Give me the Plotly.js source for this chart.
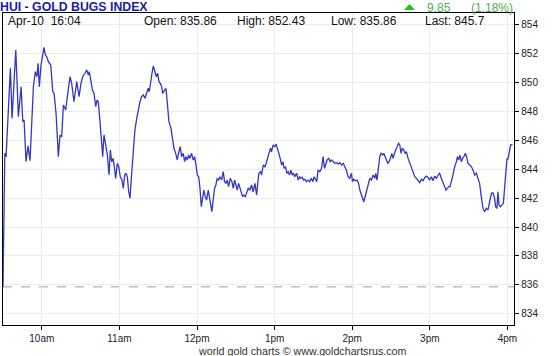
<!DOCTYPE html>
<html>
<head>
<meta charset="utf-8">
<script src="https://cdn.plot.ly/plotly-3.0.1.min.js"></script>
<style>
  html, body { margin: 0; padding: 0; background: #fff; }
  #chart { width: 560px; height: 356px; }
</style>
</head>
<body>
<div id="chart"></div>
<script>
// Trade date and session open
const tradeDate = "2024-04-10";
const openTime = "09:30";

// Minutes after the 9:30 open
const minutes = [
  0,1.4,2.4,5.7,7.0,9.9,11.9,14.0,15.3,16.3,
  17.8,19.4,20.9,23.5,25.0,26.3,27.1,28.1,29.4,30.7,
  31.7,32.8,33.8,35.1,36.9,38.5,39.5,41.0,42.8,44.1,
  45.4,46.7,48.5,50.1,51.8,53.1,54.9,57.0,58.8,60.3,
  61.6,63.4,64.7,66.0,66.7,68.1,69.1,70.4,71.7,72.7,
  73.7,75.0,76.3,77.1,78.1,79.4,80.7,82.0,83.0,84.0,
  85.1,86.1,87.1,88.4,89.5,90.7,92.0,93.0,94.1,95.1,
  96.1,97.2,98.2,99.5,100.7,102.0,103.4,104.6,105.9,107.2,
  108.5,109.8,111.1,112.3,113.1,114.2,115.2,116.2,117.5,118.5,
  119.6,120.6,121.6,122.7,123.4,124.7,126.0,127.3,128.3,129.9,
  131.2,132.2,133.5,134.7,136.0,137.0,138.1,139.4,140.4,141.4,
  142.4,143.5,144.5,145.8,147.1,148.2,149.2,150.2,151.3,152.3,
  153.3,154.3,155.3,156.4,157.4,158.7,159.8,160.8,161.5,162.5,
  163.6,164.6,165.6,166.7,167.7,169.0,170.3,171.3,172.3,173.4,
  174.4,175.7,177.0,178.0,179.1,180.1,181.1,182.2,183.2,184.2,
  185.2,186.2,187.3,188.3,189.6,190.9,192.2,193.4,194.8,196.1,
  196.8,197.8,199.2,199.9,201.2,202.5,203.5,204.6,205.6,206.9,
  207.6,208.9,210.2,211.2,212.3,213.3,214.3,215.4,216.4,217.4,
  218.5,219.5,220.5,221.5,222.6,223.6,224.6,225.6,227.0,228.2,
  229.3,230.3,231.3,232.4,233.4,234.7,235.9,237.2,238.5,239.6,
  240.6,241.6,242.6,243.6,245.0,246.3,247.5,248.6,249.6,250.6,
  251.9,252.9,254.0,255.2,256.5,257.9,259.1,260.4,261.7,263.0,
  264.2,265.5,266.8,268.1,269.4,270.2,271.2,272.5,273.8,274.9,
  275.9,276.9,277.9,278.9,279.7,281.0,282.3,283.6,284.9,286.2,
  287.5,288.2,289.2,290.3,291.3,292.3,293.4,294.4,295.4,296.5,
  297.5,298.5,299.6,300.6,301.6,302.7,303.7,304.7,305.8,306.8,
  307.8,308.8,309.9,310.9,311.9,313.2,314.5,315.8,317.0,318.4,
  319.7,320.9,322.2,323.5,324.8,326.1,327.4,328.6,329.9,331.2,
  332.5,333.8,335.1,336.4,337.6,338.9,340.2,341.5,342.5,343.6,
  344.6,345.6,346.7,347.9,349.2,350.6,351.3,352.3,353.3,354.4,
  355.4,356.4,357.5,358.5,359.5,360.8,362.2,363.4,364.7,366.0,
  367.2,368.5,369.8,371.1,372.4,373.7,375.0,376.3,377.6,378.8,
  380.1,380.9,381.9,382.7,383.5,384.6,385.8,386.9,387.9,388.9,
  389.7,390.4,391.5,392.5,394.0
];

// HUI index level
const prices = [
  835.86,845.10,844.87,850.98,847.52,852.25,847.63,849.71,847.29,847.40,
  844.52,845.61,844.59,849.71,850.75,850.40,851.33,849.71,851.21,852.02,
  852.43,851.90,851.79,851.44,851.21,849.36,849.25,847.87,844.87,846.37,
  846.25,848.44,848.10,849.25,850.40,849.94,848.67,850.06,849.02,849.94,
  850.40,850.64,850.87,850.52,850.75,850.06,849.48,849.25,848.33,848.79,
  848.67,847.29,846.02,844.87,846.37,845.79,844.98,843.60,845.33,844.52,
  844.75,844.17,843.37,844.41,844.17,843.48,843.25,842.68,843.60,843.72,
  843.48,842.44,841.99,843.72,845.33,846.71,847.52,848.21,848.67,849.02,
  849.14,848.91,849.25,849.60,849.36,850.17,850.64,851.14,850.75,850.40,
  850.64,850.06,849.94,849.71,849.25,849.48,849.60,848.33,847.29,846.83,
  846.02,845.45,845.10,844.64,845.21,845.56,844.87,845.10,844.52,844.87,
  844.64,844.98,844.75,845.10,844.64,844.87,844.29,843.60,843.48,842.68,
  841.41,841.87,842.56,842.10,841.87,842.56,841.87,841.41,841.06,841.87,
  842.68,842.91,843.37,843.25,843.48,843.25,843.83,843.14,843.02,843.25,
  842.79,843.37,843.14,842.68,843.25,842.91,842.56,843.02,842.68,842.33,
  842.10,842.22,842.10,842.33,842.68,842.56,842.91,842.44,843.02,842.22,
  842.91,843.72,843.83,843.60,844.29,844.17,844.41,844.87,845.10,845.45,
  845.21,845.68,845.56,845.74,845.45,845.10,844.75,844.29,844.52,844.06,
  844.17,843.72,843.83,843.60,843.94,843.60,843.72,843.48,843.72,843.25,
  843.48,843.37,843.44,843.25,843.30,843.14,843.25,843.14,843.37,843.14,
  843.48,843.25,843.14,843.94,843.83,844.06,844.87,844.06,844.41,844.64,
  844.75,844.52,844.64,844.52,844.41,844.45,844.36,844.45,844.29,844.41,
  844.17,843.94,843.48,843.37,843.72,843.14,843.30,843.20,843.25,843.02,
  842.56,842.33,841.99,841.75,841.99,842.44,842.91,843.37,843.25,843.60,
  843.37,843.72,843.25,844.17,844.87,845.10,844.98,845.10,844.87,844.52,
  844.41,844.52,844.75,845.10,844.75,845.10,845.33,845.45,845.79,845.68,
  845.10,845.45,845.33,845.10,845.21,844.75,844.41,844.17,843.83,843.48,
  843.37,843.25,843.07,843.30,843.20,843.43,843.52,843.43,843.25,843.48,
  843.20,843.53,843.37,843.60,843.72,843.37,843.02,842.79,842.56,842.68,
  842.79,842.79,843.14,843.60,844.17,844.52,844.87,844.64,844.98,844.52,
  844.75,844.87,845.10,844.87,844.41,844.29,844.17,843.94,843.60,843.72,
  843.37,843.02,842.10,841.29,841.06,841.29,841.18,841.87,842.33,842.37,
  841.99,841.41,841.29,842.44,841.52,841.41,841.52,841.64,842.79,843.94,
  844.75,844.68,845.33,845.68,845.70
];

// Axis tick times and labels
const tickTimes = ["10:00","11:00","12:00","13:00","14:00","15:00","16:00"];
const tickLabels = ["10am","11am","12pm","1pm","2pm","3pm","4pm"];
const yTicks = [834,836,838,840,842,844,846,848,850,852,854];

// Summary figures
const title = "HUI - GOLD BUGS INDEX";
const stamp = "Apr-10  16:04";
const openVal = 835.86, highVal = 852.43, lowVal = 835.86, lastVal = 845.7;
const change = "9.85", changePct = "(1.18%)";
const footer = "world gold charts \u00a9 www.goldchartsrus.com";

function pad(n){ return (n < 10 ? "0" : "") + n; }
function minToStamp(m){
  const [h0, m0] = openTime.split(":").map(Number);
  let s = Math.round((h0*60 + m0)*60 + m*60);
  const h = Math.floor(s/3600); s -= h*3600;
  const mm = Math.floor(s/60); s -= mm*60;
  return tradeDate + " " + pad(h) + ":" + pad(mm) + ":" + pad(s);
}

const xs = minutes.map(minToStamp);
const font = "Liberation Sans, Arial, sans-serif";

const trace = {
  x: xs, y: prices, type: "scatter", mode: "lines",
  line: { color: "#3535c4", width: 1.3 },
  hoverinfo: "skip"
};

// plot box in px: left 3, right 514, top 13, bottom 325
const L = 3, R = 514, T = 13, B = 325;
const px = v => (v - L) / (R - L);
const py = v => (B - v) / (B - T);

const infoY = py(21);
const infoFont = { family: font, size: 12, color: "#111" };

const layout = {
  width: 560, height: 356,
  margin: { l: L, r: 560 - R, t: T, b: 356 - B, pad: 0 },
  paper_bgcolor: "#ffffff", plot_bgcolor: "#ffffff",
  showlegend: false,
  title: {
    text: "<b>" + title + "</b>",
    font: { family: font, size: 12.3, color: "#1c1ca6" },
    x: 0, xref: "container", xanchor: "left",
    y: 1 - 6.5/356, yref: "container", yanchor: "middle",
    pad: { l: 0, r: 0, t: 0, b: 0 }
  },
  xaxis: {
    type: "date",
    range: [minToStamp(0), minToStamp(395.1)],
    tickvals: tickTimes.map(t => tradeDate + " " + t),
    ticktext: tickLabels,
    ticks: "outside", ticklen: 4, tickcolor: "#000", tickwidth: 1,
    showline: true, linecolor: "#000", linewidth: 1.3, mirror: true,
    showgrid: true, gridcolor: "#ebebeb", gridwidth: 1,
    zeroline: false,
    tickfont: { family: font, size: 10, color: "#222" },
    fixedrange: true
  },
  yaxis: {
    side: "right",
    range: [833.22, 854.81],
    tickvals: yTicks,
    ticks: "outside", ticklen: 4, tickcolor: "#000", tickwidth: 1,
    showline: true, linecolor: "#000", linewidth: 1.3, mirror: true,
    showgrid: true, gridcolor: "#ebebeb", gridwidth: 1,
    zeroline: false,
    tickfont: { family: font, size: 10, color: "#222" },
    fixedrange: true
  },
  shapes: [
    { type: "line", xref: "paper", x0: 0, x1: 1, yref: "y", y0: openVal, y1: openVal,
      line: { color: "#9a9ab4", width: 1, dash: "dash" }, layer: "below" },
    { type: "path", xref: "paper", yref: "paper",
      path: "M " + px(404) + " " + py(10) + " L " + px(415) + " " + py(10) + " L " + px(409.5) + " " + py(4) + " Z",
      fillcolor: "#1fc41f", line: { width: 0 } }
  ],
  annotations: [
    { text: stamp, x: px(7), y: infoY },
    { text: "Open: " + openVal.toFixed(2), x: px(142.5), y: infoY },
    { text: "High: " + highVal.toFixed(2), x: px(235.5), y: infoY },
    { text: "Low: " + lowVal.toFixed(2), x: px(330), y: infoY },
    { text: "Last: " + lastVal, x: px(423.5), y: infoY },
    { text: change, x: px(426), y: py(7.5), font: { family: font, size: 12, color: "#4fae4f" } },
    { text: changePct, x: px(469.5), y: py(7.5), font: { family: font, size: 12, color: "#4fae4f" } },
    { text: footer, x: px(302), y: py(350.5), xanchor: "center", font: { family: font, size: 10.7, color: "#333" } }
  ].map(a => Object.assign({ xref: "paper", yref: "paper", xanchor: "left", yanchor: "middle",
        showarrow: false, font: infoFont, borderpad: 0 }, a))
};

Plotly.newPlot("chart", [trace], layout, { staticPlot: true, displayModeBar: false });
</script>
</body>
</html>
